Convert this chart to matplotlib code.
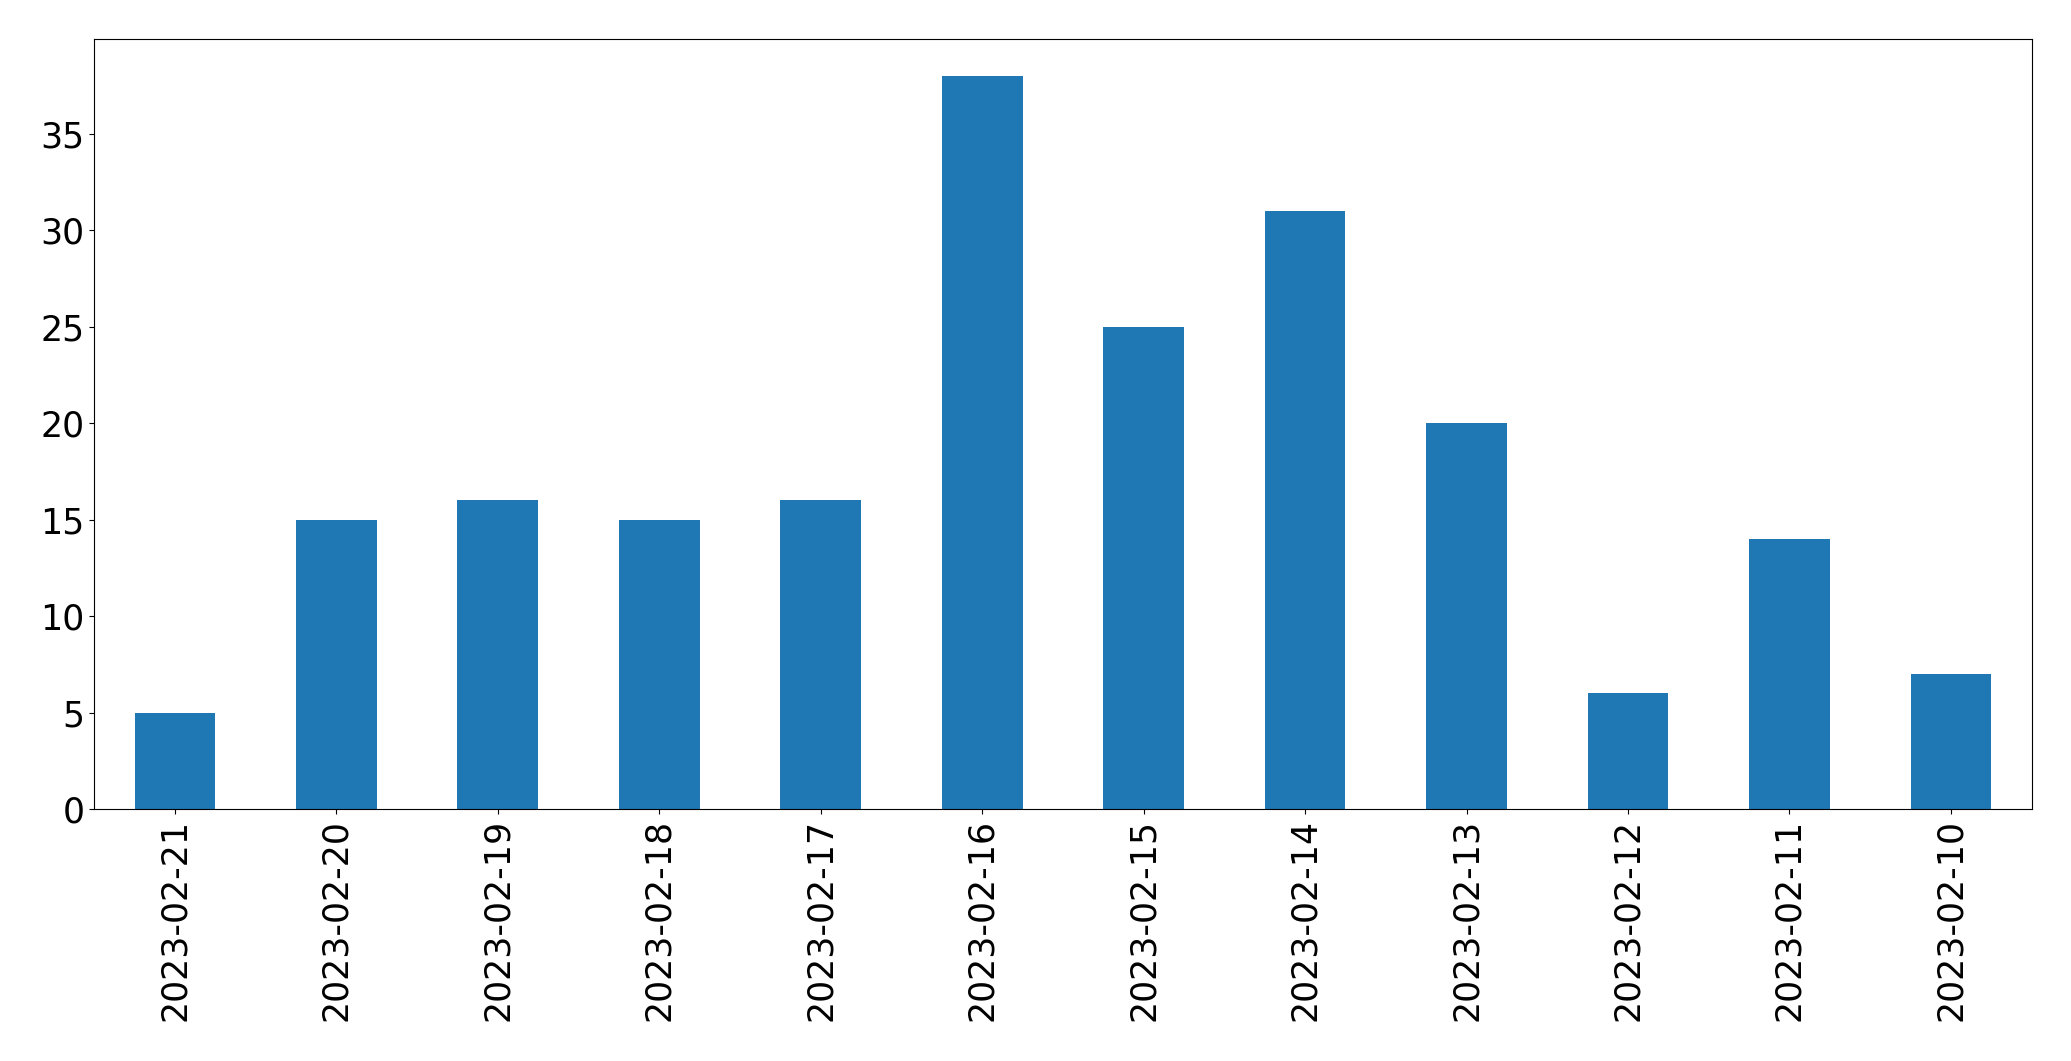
import matplotlib
matplotlib.use("Agg")
import matplotlib.pyplot as plt

dates = ["2023-02-21", "2023-02-20", "2023-02-19", "2023-02-18", "2023-02-17", "2023-02-16",
         "2023-02-15", "2023-02-14", "2023-02-13", "2023-02-12", "2023-02-11", "2023-02-10"]
counts = [5, 15, 16, 15, 16, 38, 25, 31, 20, 6, 14, 7]

fig = plt.figure(figsize=(20.71, 10.61), dpi=100)
ax = fig.add_axes([0.0455, 0.2375, 0.9355, 0.7255])
x = list(range(len(dates)))
ax.bar(x, counts, width=0.5, color="#1f77b4")
ax.set_xticks(x)
ax.set_xticklabels(dates, rotation=90)
ax.set_xlim(-0.5, len(dates) - 0.5)
ax.tick_params(axis="both", labelsize=25)
fig.savefig("out.png", dpi=100)
